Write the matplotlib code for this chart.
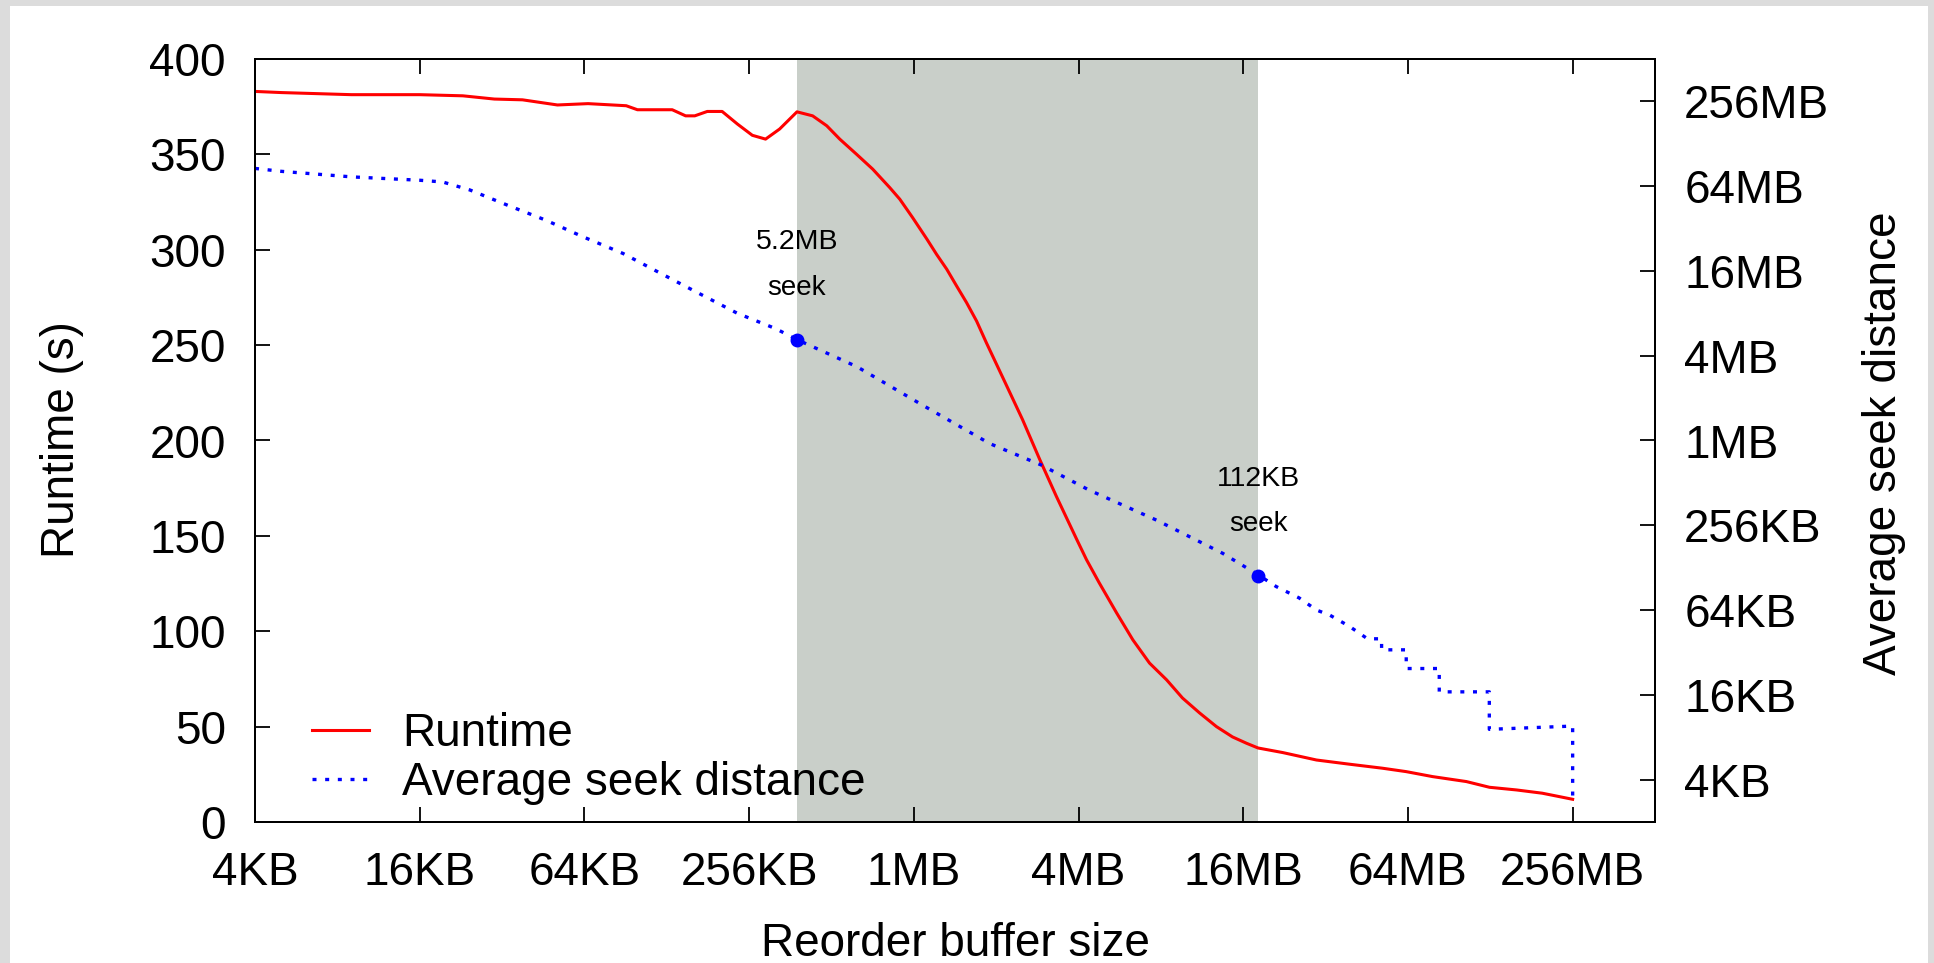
import matplotlib
matplotlib.use('Agg')
import matplotlib.pyplot as plt
from matplotlib.patches import Rectangle
from matplotlib.ticker import NullLocator, FixedLocator, FixedFormatter

plt.rcParams['font.family'] = ['Liberation Sans', 'DejaVu Sans']

# --- data (buffer sizes and seek distances in KB) ---
runtime_buf_kb = [4, 5, 9, 16, 23, 30, 38, 51, 66, 91, 100, 134, 150, 162, 180, 204,
                  232, 263, 294, 331, 383, 437, 492, 549, 633, 724, 836, 910, 1013, 1144,
                  1240, 1351, 1468, 1596, 1737, 1885, 2055, 2240, 2556, 2956, 3397, 4039,
                  4381, 4870, 5639, 6470, 7445, 8600, 9825, 11340, 13080, 14970, 16830,
                  18560, 22850, 30350, 40060, 52860, 64630, 80640, 107150, 130170,
                  163500, 202900, 234500, 262144]
runtime_s = [383, 382.4, 381.3, 381.3, 380.7, 379, 378.6, 375.9, 376.6, 375.5, 373.4,
             373.4, 370.2, 370.2, 372.5, 372.5, 365.9, 360, 358, 363.3, 372.3, 370.2,
             365, 358, 350, 342.3, 332.6, 326.5, 316.9, 305.5, 297.6, 289.8, 281, 272.3,
             262.6, 251.3, 239.9, 228.5, 211, 190, 170.8, 148, 137.5, 125.5, 109.7, 95.5,
             83.3, 74.5, 65, 57.2, 50, 44.6, 41.3, 38.8, 36.4, 32.5, 30.3, 28.2, 26.4,
             23.8, 21.2, 18.2, 16.8, 15.1, 13.3, 11.9]

seek_buf_kb = [4, 5, 9, 16, 19.4, 24.4, 33.6, 46.2, 63.6, 88.6, 122, 168, 232, 320, 383,
               635, 1105, 1937, 2997, 4480, 7910, 13770, 18560, 21620, 26240, 30350,
               33900, 40060, 46630, 52500, 52500, 64600, 64600, 85300, 85300, 130000,
               130000, 262144, 262144]
seek_kb = [87600, 83500, 76300, 72200, 70200, 61600, 47900, 37600, 28500, 21800, 15700,
           11340, 8192, 6380, 5330, 3420, 1820, 975, 685, 455, 278, 162, 114, 94, 78, 64,
           59, 49, 40, 40, 33.4, 33.4, 24.6, 24.6, 16.8, 16.8, 9.1, 9.6, 2.9]

mark_buf_kb = [383, 18560]
mark_seek_kb = [5325, 112]
mark_labels = ['5.2MB', '112KB']

shade_kb = [383, 18560]

size_ticks = [4, 16, 64, 256, 1024, 4096, 16384, 65536, 262144]
size_labels = ['4KB', '16KB', '64KB', '256KB', '1MB', '4MB', '16MB', '64MB', '256MB']
runtime_ticks = [0, 50, 100, 150, 200, 250, 300, 350, 400]

W, H = 1934, 963
FS = 33

fig = plt.figure(figsize=(W / 100, H / 100), dpi=100, facecolor='#dcdcdc')
fig.patches.append(Rectangle((10 / W, 0), (1928 - 10) / W, (H - 6) / H,
                             transform=fig.transFigure, facecolor='white',
                             edgecolor='none', zorder=-10))

ax = fig.add_axes([255 / W, 1 - 822 / H, 1400 / W, 763 / H])
ax.set_xscale('log', base=2)
ax.set_xlim(4, 524288)
ax.set_ylim(0, 400)
ax.axvspan(shade_kb[0], shade_kb[1], facecolor='#c9cfc9', edgecolor='none', zorder=0)
l1, = ax.plot(runtime_buf_kb, runtime_s, color='#ff0000', lw=2.2, label='Runtime')

ax2 = ax.twinx()
ax2.set_yscale('log', base=2)
ax2.set_ylim(2, 524288)
l2, = ax2.plot(seek_buf_kb, seek_kb, color='#0000ff', lw=2.4, ls=(0, (1.2, 2.6)),
               label='Average seek distance')
ax2.plot(mark_buf_kb, mark_seek_kb, 'o', color='#0000ff', ms=9)
for bx, sy, lab in zip(mark_buf_kb, mark_seek_kb, mark_labels):
    ax2.annotate(lab, (bx, sy), xytext=(0, 70), textcoords='offset points',
                 ha='center', va='center', fontsize=20.5)
    ax2.annotate('seek', (bx, sy), xytext=(0, 37), textcoords='offset points',
                 ha='center', va='center', fontsize=20)

# ticks
ax.xaxis.set_major_locator(FixedLocator(size_ticks))
ax.xaxis.set_major_formatter(FixedFormatter(size_labels))
ax.xaxis.set_minor_locator(NullLocator())
ax.set_yticks(runtime_ticks)
ax.tick_params(axis='both', direction='in', length=11, width=1.3, labelsize=FS,
               top=True, right=False, pad=21)
ax2.yaxis.set_major_locator(FixedLocator(size_ticks))
ax2.yaxis.set_major_formatter(FixedFormatter(size_labels))
ax2.yaxis.set_minor_locator(NullLocator())
ax2.tick_params(axis='y', direction='in', length=11, width=1.3, labelsize=FS, pad=21)
for a in (ax, ax2):
    for s in a.spines.values():
        s.set_linewidth(1.4)

fig.text(62 / W, 1 - 440 / H, 'Runtime (s)', rotation=90, ha='center', va='center',
         fontsize=FS)
fig.text(1884 / W, 1 - 443 / H, 'Average seek distance', rotation=90, ha='center',
         va='center', fontsize=FS)
fig.text(955 / W, 1 - 944 / H, 'Reorder buffer size', ha='center', va='center',
         fontsize=FS)

ax2.legend(handles=[l1, l2], loc='upper left', bbox_to_anchor=(0.0407, 0.144),
           frameon=False, fontsize=FS, handlelength=1.24, handletextpad=0.72,
           labelspacing=0.1, borderpad=0, borderaxespad=0)

fig.savefig('out.png', dpi=100, facecolor=fig.get_facecolor())
